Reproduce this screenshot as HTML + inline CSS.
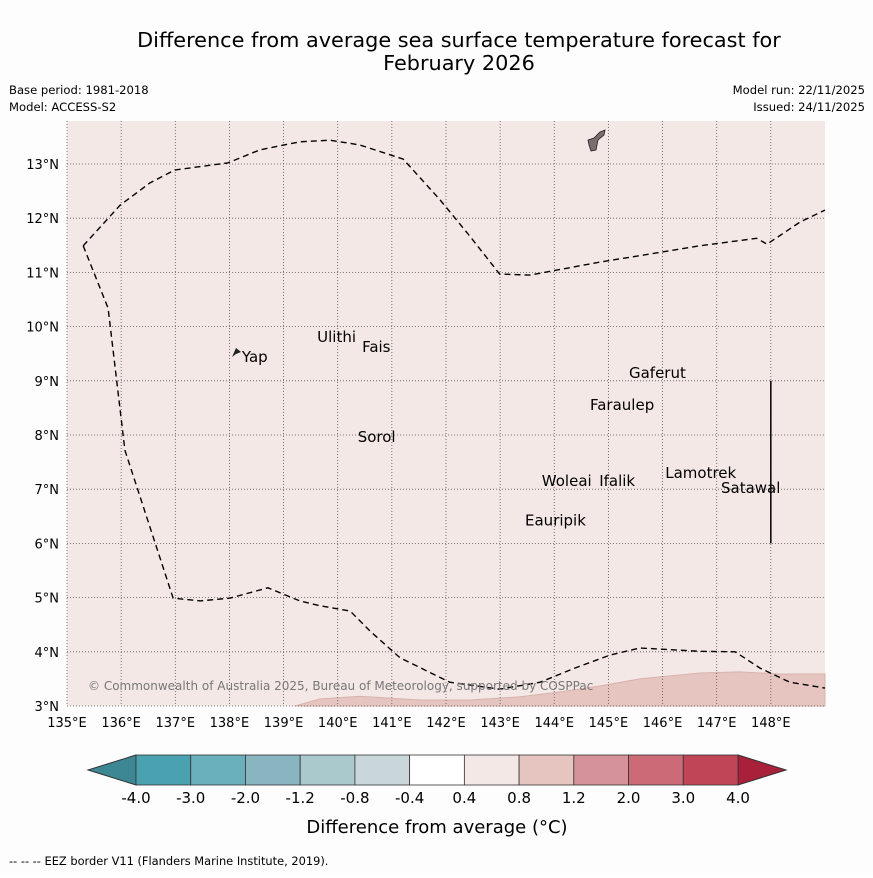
<!DOCTYPE html>
<html><head><meta charset="utf-8"><style>
body{margin:0;background:#fff;font-family:"Liberation Sans","DejaVu Sans",sans-serif;}
svg text{font-family:"DejaVu Sans","Liberation Sans",sans-serif;}
</style></head><body>
<svg id="c" width="873" height="873" xmlns="http://www.w3.org/2000/svg">
<rect width="873" height="873" fill="#fdfdfd"/>
<text x="459" y="47" font-size="20.8" text-anchor="middle">Difference from average sea surface temperature forecast for</text>
<text x="459" y="70" font-size="20.8" text-anchor="middle">February 2026</text>
<text x="9" y="94" font-size="11.6">Base period: 1981-2018</text>
<text x="9" y="111" font-size="11.6">Model: ACCESS-S2</text>
<text x="865" y="94" font-size="11.6" text-anchor="end">Model run: 22/11/2025</text>
<text x="865" y="111" font-size="11.6" text-anchor="end">Issued: 24/11/2025</text>
<g id="map"></g>
<g id="cb"></g>
<text x="437" y="833" font-size="18" text-anchor="middle">Difference from average (°C)</text>
<text x="9" y="865" font-size="11.4">-- --  -- EEZ border V11 (Flanders Marine Institute, 2019).</text>
</svg>
<script>
const lonTicks=[135,136,137,138,139,140,141,142,143,144,145,146,147,148];
const latTicks=[3,4,5,6,7,8,9,10,11,12,13];
const eezTopLon=[135.30,135.98,136.53,136.99,137.97,138.56,139.30,139.86,140.41,141.21,141.89,142.44,142.99,143.55,144.84,145.77,146.69,147.74,147.93,148.54,149.0];
const eezTopLat=[11.49,12.24,12.65,12.89,13.02,13.26,13.41,13.44,13.35,13.09,12.34,11.67,10.97,10.95,11.19,11.34,11.49,11.63,11.52,11.93,12.15];
const eezBotLon=[135.30,135.76,136.07,136.96,137.46,138.01,138.71,139.30,139.67,140.23,140.60,141.15,142.07,142.99,143.74,144.38,145.03,145.58,146.69,147.34,147.80,148.35,149.0];
const eezBotLat=[11.49,10.34,7.72,4.99,4.94,4.99,5.18,4.94,4.85,4.75,4.38,3.89,3.44,3.31,3.44,3.70,3.94,4.07,4.01,4.00,3.70,3.44,3.33];
const warmLon=[139.21,139.67,140.41,141.52,142.44,143.37,144.11,144.84,145.58,146.69,147.43,148.17,149.0];
const warmLat=[3.0,3.13,3.18,3.11,3.11,3.17,3.26,3.37,3.50,3.61,3.63,3.59,3.59];
const placeNames=["Ulithi","Fais","Yap","Gaferut","Faraulep","Sorol","Woleai","Ifalik","Lamotrek","Satawal","Eauripik"];
const placeLon=[139.62,140.45,138.23,145.38,144.66,140.37,143.77,144.83,146.05,147.08,143.46];
const placeLat=[9.72,9.53,9.35,9.05,8.46,7.87,7.06,7.06,7.21,6.93,6.33];
const cbLevels=["-4.0","-3.0","-2.0","-1.2","-0.8","-0.4","0.4","0.8","1.2","2.0","3.0","4.0"];
const cbColors=["#4aa2b1","#6aafbc","#88b5c0","#a9c9cd","#c9d7da","#ffffff","#f4e8e6","#e6c5c0","#d6929a","#cc6b77","#c04556"];
const NS="http://www.w3.org/2000/svg";
const X=l=>67+(l-135)*54.14, Y=a=>706-(a-3)*54.2;
function el(t,a,p){const e=document.createElementNS(NS,t);for(const k in a)e.setAttribute(k,a[k]);p.appendChild(e);return e;}
const m=document.getElementById('map');
const bg=el('rect',{x:67,y:121,width:758,height:585,fill:'#f4e8e6'},m);


let wp='M'+X(warmLon[0])+','+Y(3);
warmLon.forEach((l,i)=>wp+=' L'+X(l)+','+Y(warmLat[i]));
wp+=' L'+X(149)+','+Y(3)+'Z';
const w=el('path',{d:wp,fill:'#e6c5c0',stroke:'#d8b2ad','stroke-width':1},m);


lonTicks.forEach(l=>{if(l>135){const g=el('line',{x1:X(l),x2:X(l),y1:121,y2:706,stroke:'#555','stroke-width':0.8,'stroke-dasharray':'1,2'},m);

}
const t=el('text',{x:X(l),y:727,'font-size':13,'text-anchor':'middle'},m);t.textContent=l+'°E';

});
latTicks.forEach(a=>{const g=el('line',{x1:67,x2:825,y1:Y(a),y2:Y(a),stroke:'#555','stroke-width':0.8,'stroke-dasharray':'1,2'},m);


const t=el('text',{x:59,y:Y(a)+5,'font-size':13,'text-anchor':'end'},m);t.textContent=a+'°N';

});
const lg=el('line',{x1:67,x2:67,y1:121,y2:706,stroke:'#555','stroke-width':0.8,'stroke-dasharray':'1,2'},m);


function poly(lons,lats,name){let d='';lons.forEach((l,i)=>d+=(i?' L':'M')+X(l).toFixed(1)+','+Y(lats[i]).toFixed(1));
const p=el('path',{d:d,fill:'none',stroke:'#000','stroke-width':1.4,'stroke-dasharray':'6,4'},m);

}
poly(eezTopLon,eezTopLat,'eez-border-north');
poly(eezBotLon,eezBotLat,'eez-border-south');
const vl=el('line',{x1:X(148),x2:X(148),y1:Y(9),y2:Y(6),stroke:'#000','stroke-width':1.5},m);


const gu=el('path',{d:'M588,140 L594,138 L600,132 L605,130 L604,135 L598,140 L596,150 L591,151 L589,145 Z',fill:'#7a6e6e',stroke:'#222','stroke-width':0.8},m);


const yp=el('path',{d:'M232,357 L236,348 L241,352 L236,354 Z',fill:'#222'},m);


placeNames.forEach((n,i)=>{const t=el('text',{x:X(placeLon[i]),y:Y(placeLat[i]),'font-size':15},m);t.textContent=n;

});
const cp=el('text',{x:88,y:690,'font-size':12,fill:'#777'},m);cp.textContent='© Commonwealth of Australia 2025, Bureau of Meteorology, supported by COSPPac';


const cb=document.getElementById('cb');
const bx0=136,bx1=738,bw=(bx1-bx0)/cbColors.length,y0=755,y1=785;
const lt=el('path',{d:`M${bx0},${y0} L88,770 L${bx0},${y1}Z`,fill:'#3d8794',stroke:'#333'},cb);


const rt=el('path',{d:`M${bx1},${y0} L786,770 L${bx1},${y1}Z`,fill:'#a8203a',stroke:'#333'},cb);


cbColors.forEach((c,i)=>{const r=el('rect',{x:bx0+i*bw,y:y0,width:bw,height:y1-y0,fill:c,stroke:'#333','stroke-width':0.8},cb);

});
cbLevels.forEach((s,i)=>{const t=el('text',{x:bx0+i*bw,y:803,'font-size':15,'text-anchor':'middle'},cb);t.textContent=s;

});
</script>
</body></html>
